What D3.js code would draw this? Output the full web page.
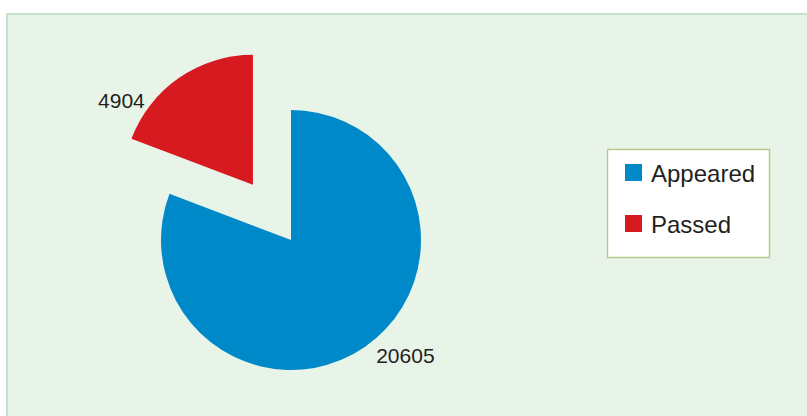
<!DOCTYPE html>
<html>
<head>
<meta charset="utf-8">
<script src="https://cdn.jsdelivr.net/npm/d3@7"></script>
<style>
  html, body { margin: 0; padding: 0; background: #ffffff; }
  svg { display: block; }
  text { font-family: "Liberation Sans", Arial, sans-serif; fill: #231f20; }
</style>
</head>
<body>
<div id="chart"></div>
<script>
// chart values
var categories = ["Appeared", "Passed"];
var values = [20605, 4904];
var colors = ["#0089c8", "#d71920"];

var width = 807, height = 416;
var cx = 291, cy = 240, r = 130;
var explode = 67;

var svg = d3.select('#chart').append('svg')
  .attr('width', width).attr('height', height);

// green panel, runs off the right and bottom edges
svg.append('rect')
  .attr('x', 7).attr('y', 14)
  .attr('width', width).attr('height', height)
  .attr('fill', '#e9f4e9')
  .attr('stroke', '#c4e2c9').attr('stroke-width', 2);

var data = categories.map(function(c, i) { return { name: c, value: values[i], color: colors[i] }; });

var pie = d3.pie().sort(null).value(function(d) { return d.value; });
var arc = d3.arc().innerRadius(0).outerRadius(r);
var labelArc = d3.arc().innerRadius(r + 20).outerRadius(r + 20);

var slices = pie(data);

// offset of each slice: the small one is pulled out
function offset(d, i) {
  if (i == 0) return [0, 0];
  var mid = (d.startAngle + d.endAngle) / 2;
  return [Math.sin(mid) * explode, -Math.cos(mid) * explode];
}

var g = svg.append('g').attr('transform', 'translate(' + cx + ',' + cy + ')');

g.selectAll('path.slice')
  .data(slices)
  .enter()
  .append('path')
  .attr('class', 'slice')
  .attr('transform', function(d, i) { var o = offset(d, i); return 'translate(' + o[0] + ',' + o[1] + ')'; })
  .attr('d', arc)
  .attr('fill', function(d) { return d.data.color; });

// value labels
var nudge = [[0, 0], [-23, 47]];
g.selectAll('text.val')
  .data(slices)
  .enter()
  .append('text')
  .attr('class', 'val')
  .attr('transform', function(d, i) {
    var o = offset(d, i);
    var p = labelArc.centroid(d);
    return 'translate(' + (p[0] + o[0] + nudge[i][0]) + ',' + (p[1] + o[1] + nudge[i][1]) + ')';
  })
  .attr('text-anchor', function(d, i) { return i == 0 ? 'start' : 'end'; })
  .style('font-size', '21px')
  .text(function(d) { return d.data.value; });

// legend
var legend = svg.append('g').attr('transform', 'translate(607,149)');
legend.append('rect')
  .attr('x', 0.5).attr('y', 0.5)
  .attr('width', 162).attr('height', 108)
  .attr('fill', '#ffffff')
  .attr('stroke', '#b7c98f').attr('stroke-width', 1.5);

var item = legend.selectAll('g.item')
  .data(data)
  .enter()
  .append('g')
  .attr('class', 'item')
  .attr('transform', function(d, i) { return 'translate(18,' + (15 + i * 51) + ')'; });

item.append('rect')
  .attr('width', 17).attr('height', 17)
  .attr('fill', function(d) { return d.color; });
item.append('text')
  .attr('x', 26).attr('y', 18)
  .style('font-size', '24px')
  .text(function(d) { return d.name; });
</script>
</body>
</html>
